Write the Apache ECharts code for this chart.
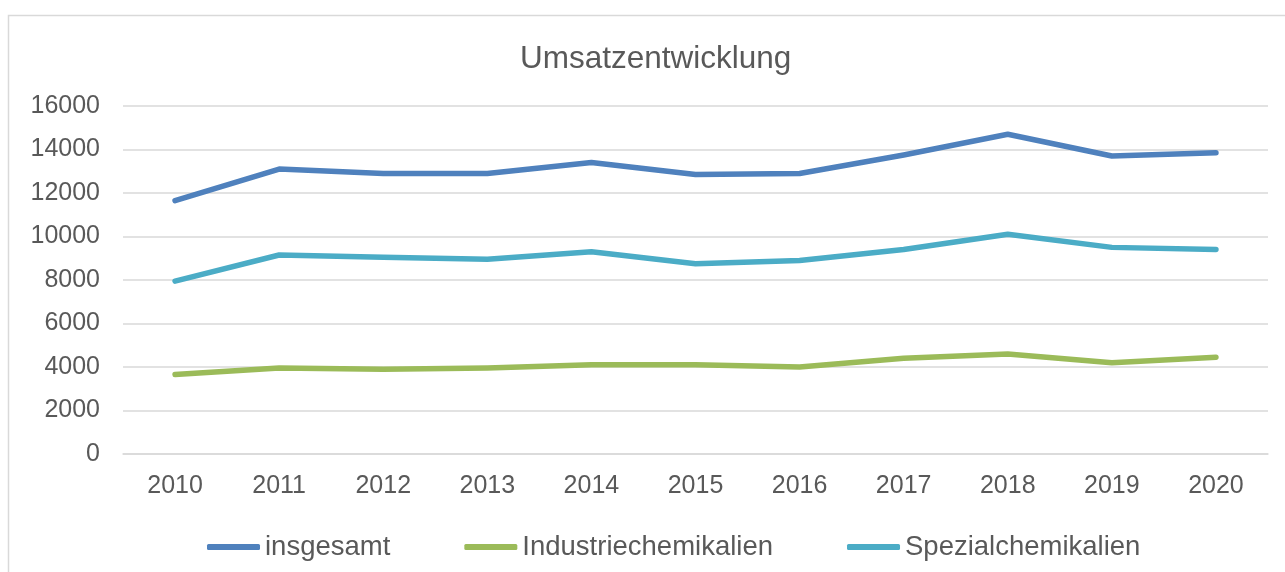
<!DOCTYPE html>
<html>
<head>
<meta charset="utf-8">
<script src="https://cdn.jsdelivr.net/npm/echarts@6/dist/echarts.min.js"></script>
<style>
  html, body { margin: 0; padding: 0; background: #fff; }
  #chart { width: 1285px; height: 572px; }
</style>
</head>
<body>
<div id="chart"></div>
<script>
// Daten
const years = ['2010', '2011', '2012', '2013', '2014', '2015', '2016', '2017', '2018', '2019', '2020'];
const insgesamt = [11650, 13100, 12900, 12900, 13400, 12850, 12900, 13750, 14700, 13700, 13850];
const industrie = [3650, 3950, 3900, 3950, 4100, 4100, 4000, 4400, 4600, 4200, 4450];
const spezial = [7950, 9150, 9050, 8950, 9300, 8750, 8900, 9400, 10100, 9500, 9400];

const font = '"Liberation Sans", Arial, sans-serif';
const textColor = '#595959';

const chart = echarts.init(document.getElementById('chart'));

const lineSeries = (name, data, color) => ({
  name,
  type: 'line',
  data,
  symbol: 'none',
  itemStyle: { color },
  lineStyle: { color, width: 5.5, cap: 'round', join: 'round' }
});

chart.setOption({
  animation: false,
  textStyle: { fontFamily: font },
  // Rahmen wie im Original
  graphic: [{
    type: 'rect',
    shape: { x: 8.5, y: 15.5, width: 1290, height: 570 },
    style: { fill: 'none', stroke: '#d9d9d9', lineWidth: 1.5 },
    silent: true
  }],
  title: {
    text: 'Umsatzentwicklung',
    left: 515,
    top: 38,
    textStyle: { fontFamily: font, fontSize: 31.5, fontWeight: 'normal', color: textColor }
  },
  grid: { left: 123, right: 17, top: 106, bottom: 118 },
  legend: {
    left: 202,
    top: 528,
    icon: 'roundRect',
    itemWidth: 53,
    itemHeight: 6,
    itemGap: 74,
    textStyle: { fontFamily: font, fontSize: 27.5, color: textColor }
  },
  xAxis: {
    type: 'category',
    data: years,
    boundaryGap: true,
    axisLine: { show: true, lineStyle: { color: '#d9d9d9', width: 1.5 } },
    axisTick: { show: false },
    axisLabel: { fontFamily: font, fontSize: 25, color: textColor, margin: 20 }
  },
  yAxis: {
    type: 'value',
    min: 0,
    max: 16000,
    interval: 2000,
    axisLine: { show: false },
    axisTick: { show: false },
    axisLabel: { fontFamily: font, fontSize: 25, color: textColor, margin: 23, formatter: v => String(v) },
    splitLine: { lineStyle: { color: '#d9d9d9', width: 1.5 } }
  },
  series: [
    lineSeries('insgesamt', insgesamt, '#4f81bd'),
    lineSeries('Industriechemikalien', industrie, '#9bbb59'),
    lineSeries('Spezialchemikalien', spezial, '#4bacc6')
  ]
});
</script>
</body>
</html>
